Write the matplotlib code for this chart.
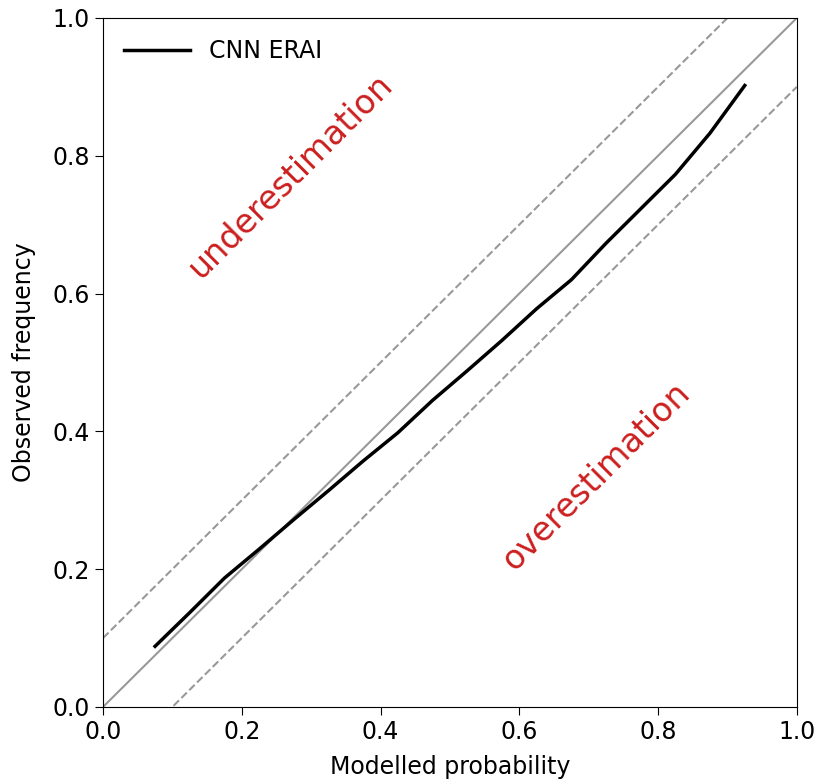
import numpy as np
import matplotlib.pyplot as plt

# reliability curve values
prob = [0.075, 0.125, 0.175, 0.225, 0.275, 0.325, 0.375, 0.425, 0.475,
        0.525, 0.575, 0.625, 0.675, 0.725, 0.775, 0.825, 0.875, 0.925]
freq = [0.088, 0.137, 0.187, 0.229, 0.272, 0.314, 0.357, 0.398, 0.445,
        0.488, 0.532, 0.578, 0.620, 0.673, 0.723, 0.773, 0.833, 0.902]

fig = plt.figure(figsize=(8.21, 7.82), dpi=100)
ax = fig.add_axes([0.1255, 0.096, 0.845, 0.881])

diag = np.array([0.0, 1.0])
ax.plot(diag, diag, color='#999999', lw=1.5)
ax.plot(diag, diag + 0.1, color='#999999', lw=1.5, ls='--')
ax.plot(diag, diag - 0.1, color='#999999', lw=1.5, ls='--')

ax.plot(prob, freq, color='black', lw=2.5, label='CNN ERAI')

ax.text(0.27, 0.77, 'underestimation', color='#cc1f1f', fontsize=24,
        rotation=45, ha='center', va='center')
ax.text(0.71, 0.335, 'overestimation', color='#cc1f1f', fontsize=24,
        rotation=45, ha='center', va='center')

ax.set_xlim(0, 1)
ax.set_ylim(0, 1)
ax.set_xticks([0, 0.2, 0.4, 0.6, 0.8, 1.0])
ax.set_yticks([0, 0.2, 0.4, 0.6, 0.8, 1.0])
ax.tick_params(labelsize=17, length=6)
ax.set_xlabel('Modelled probability', fontsize=17, labelpad=8)
ax.set_ylabel('Observed frequency', fontsize=17, labelpad=12)
ax.legend(loc='upper left', frameon=False, fontsize=17, handlelength=2.8)

fig.savefig('out.png', dpi=100)
